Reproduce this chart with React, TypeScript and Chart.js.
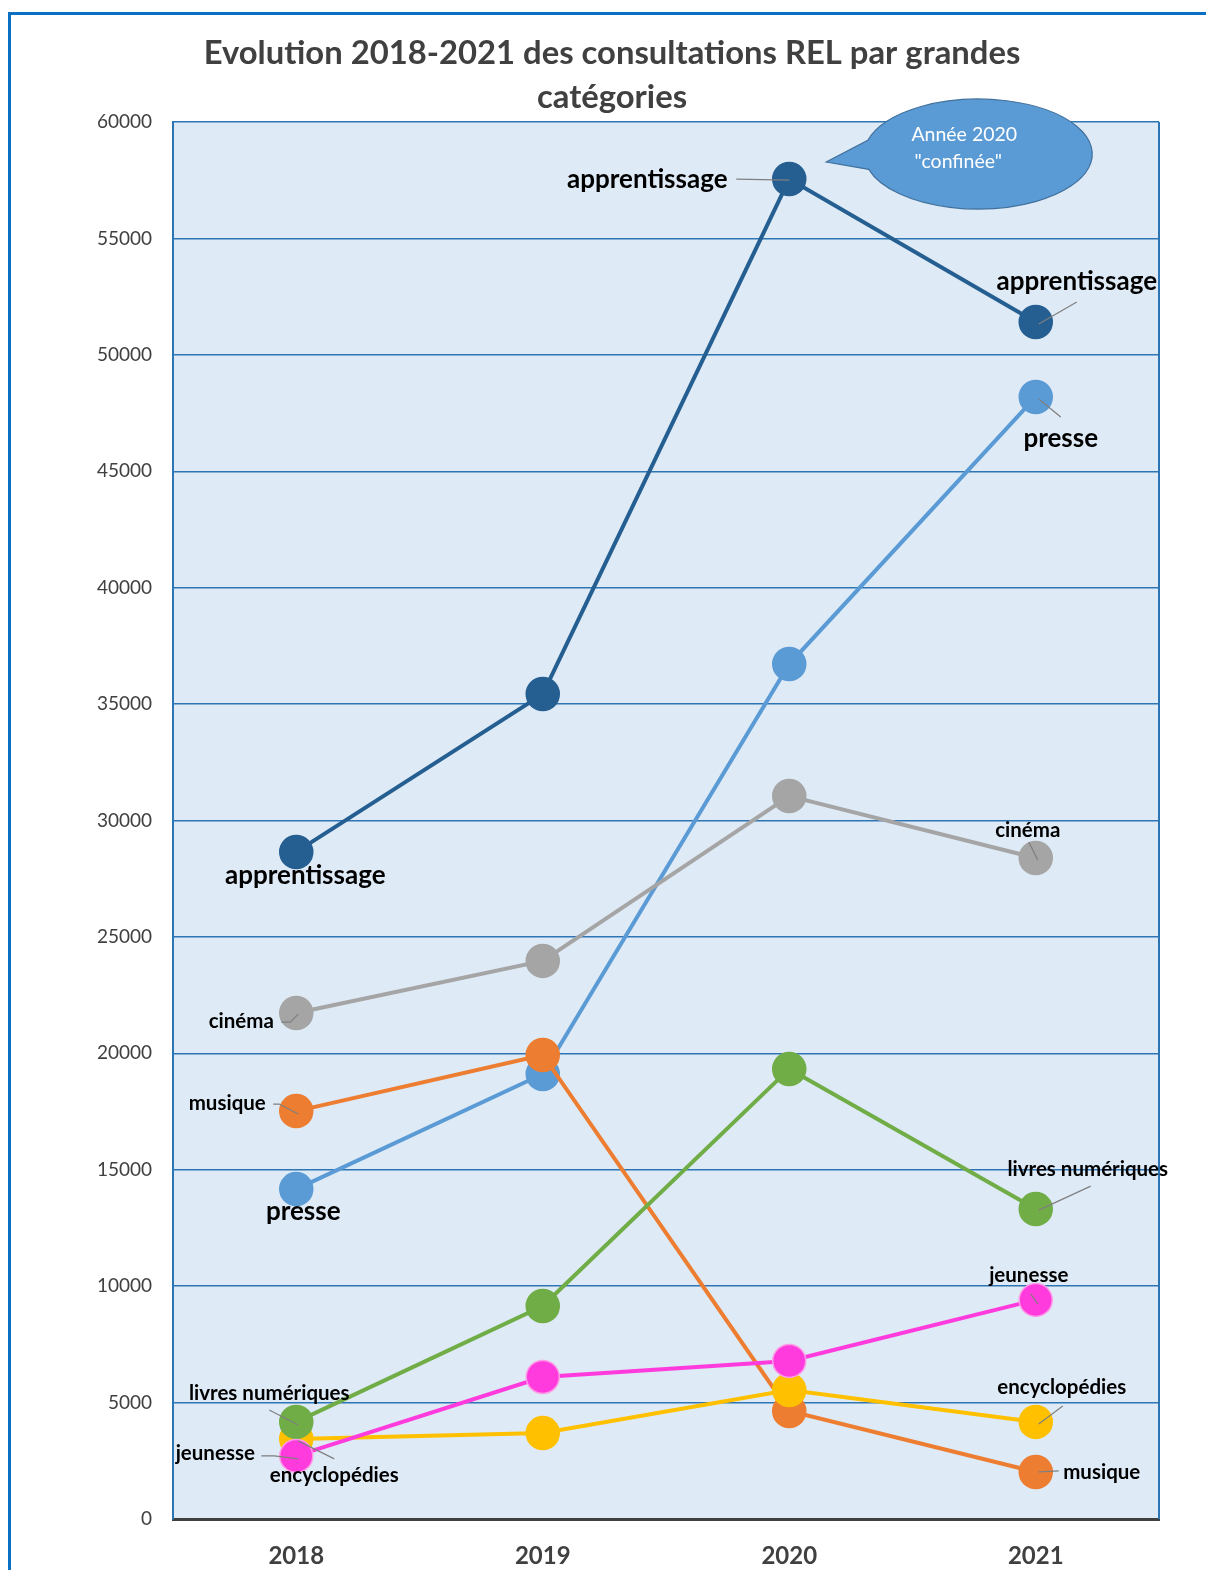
import React, { useEffect, useRef } from "react";
import { Chart, registerables } from "chart.js";

Chart.register(...registerables);

const years = ["2018", "2019", "2020", "2021"];
const seriesNames = ["apprentissage", "presse", "cinéma", "musique", "encyclopédies", "livres numériques", "jeunesse"];
const apprentissage = [28650, 35430, 57550, 51410];
const presse = [14170, 19110, 36720, 48190];
const cinema = [21730, 23970, 31050, 28390];
const musique = [17520, 19930, 4640, 2020];
const encyclopedies = [3440, 3690, 5540, 4170];
const livresNumeriques = [4170, 9150, 19330, 13310];
const jeunesse = [2710, 6100, 6790, 9410];
const yTicks = [0, 5000, 10000, 15000, 20000, 25000, 30000, 35000, 40000, 45000, 50000, 55000, 60000];
const titleLines = ["Evolution 2018-2021 des consultations REL par grandes", "catégories"];
const calloutLines = ["Année 2020", "\"confinée\""];

const seriesValues = [apprentissage, presse, cinema, musique, encyclopedies, livresNumeriques, jeunesse];
const seriesColors = ["#255E91", "#5B9BD5", "#A5A5A5", "#ED7D31", "#FFC000", "#70AD47", "#FF3BDD"];
const seriesBorders = ["#255E91", "#5B9BD5", "#A5A5A5", "#ED7D31", "#FFC000", "#70AD47", "#FF9BE6"];

const FONT = "Lato, 'Open Sans', sans-serif";

// label styling: dataset index, point index, text offset from point (dx, dy), font size, leader path offsets
type Lbl = { ds: number; i: number; dx: number; dy: number; size: number; leader?: number[][] };
const labels: Lbl[] = [
  { ds: 0, i: 0, dx: 9, dy: 24, size: 26 },
  { ds: 0, i: 2, dx: -142, dy: 1, size: 26, leader: [[-53, 0], [0, 1]] },
  { ds: 0, i: 3, dx: 41, dy: -40, size: 26, leader: [[41, -20], [3, 2]] },
  { ds: 1, i: 0, dx: 7, dy: 23, size: 26 },
  { ds: 1, i: 3, dx: 25, dy: 42, size: 26, leader: [[25, 20], [3, 2]] },
  { ds: 2, i: 0, dx: -55, dy: 8, size: 20.5, leader: [[-15, 9], [-6, 9], [2, 1]] },
  { ds: 2, i: 3, dx: -8, dy: -28, size: 20.5, leader: [[-7, -16], [2, 2]] },
  { ds: 3, i: 0, dx: -69, dy: -8, size: 20.5, leader: [[-23, -7], [-17, -7], [2, 3]] },
  { ds: 3, i: 3, dx: 66, dy: 0, size: 20.5, leader: [[23, -1], [3, 0]] },
  { ds: 5, i: 0, dx: -27, dy: -29, size: 20.5, leader: [[-27, -12], [2, 3]] },
  { ds: 5, i: 3, dx: 52, dy: -40, size: 20.5, leader: [[55, -23], [3, 1]] },
  { ds: 6, i: 0, dx: -81, dy: -3, size: 20.5, leader: [[-35, 0], [-22, 0], [2, 3]] },
  { ds: 6, i: 3, dx: -7, dy: -25, size: 20.5, leader: [[-5, -6], [2, 4]] },
  { ds: 4, i: 0, dx: 38, dy: 36, size: 20.5, leader: [[38, 20], [2, 2]] },
  { ds: 4, i: 3, dx: 26, dy: -35, size: 20.5, leader: [[27, -16], [3, 2]] },
];

const decor = {
  id: "decor",
  beforeDraw(chart: any) {
    const { ctx, chartArea: a } = chart;
    ctx.save();
    ctx.fillStyle = "#FFFFFF";
    ctx.fillRect(0, 0, chart.width, chart.height);
    ctx.fillStyle = "#DEEAF6";
    ctx.fillRect(a.left, a.top, a.right - a.left, a.bottom - a.top);
    // outer frame
    ctx.strokeStyle = "#0A70C4";
    ctx.lineWidth = 3;
    ctx.beginPath();
    ctx.moveTo(chart.width + 5, 13.5);
    ctx.lineTo(9.5, 13.5);
    ctx.lineTo(9.5, chart.height + 5);
    ctx.stroke();
    // title
    ctx.fillStyle = "#404040";
    ctx.font = `bold 32.8px ${FONT}`;
    ctx.textAlign = "center";
    ctx.textBaseline = "middle";
    titleLines.forEach((t, k) => ctx.fillText(t, 612, 53 + k * 44));
    ctx.restore();
  },
  beforeDatasetsDraw(chart: any) {
    const { ctx, chartArea: a } = chart;
    ctx.save();
    ctx.strokeStyle = "#2E75B6";
    ctx.lineWidth = 2;
    ctx.beginPath();
    ctx.moveTo(a.right, a.top);
    ctx.lineTo(a.right, a.bottom);
    ctx.stroke();
    ctx.restore();
  },
  afterDatasetsDraw(chart: any) {
    const { ctx } = chart;
    ctx.save();
    labels.forEach((l) => {
      const el = chart.getDatasetMeta(l.ds).data[l.i];
      const px = el.x, py = el.y;
      if (l.leader) {
        ctx.strokeStyle = "#7F7F7F";
        ctx.lineWidth = 1.2;
        ctx.beginPath();
        l.leader.forEach(([x, y], k) => (k === 0 ? ctx.moveTo(px + x, py + y) : ctx.lineTo(px + x, py + y)));
        ctx.stroke();
      }
      ctx.fillStyle = "#000000";
      ctx.font = `bold ${l.size}px ${FONT}`;
      ctx.textAlign = "center";
      ctx.textBaseline = "middle";
      ctx.fillText(seriesNames[l.ds], px + l.dx, py + l.dy);
    });
    // callout near the 2020 peak
    const pk = chart.getDatasetMeta(0).data[2];
    const cx = pk.x + 189, cy = pk.y - 25;
    ctx.fillStyle = "#5B9BD5";
    ctx.strokeStyle = "#41719C";
    ctx.lineWidth = 1.2;
    ctx.beginPath();
    ctx.ellipse(cx, cy, 114, 55, 0, Math.PI * 1.08, Math.PI * 0.91 + Math.PI * 2, false);
    ctx.lineTo(pk.x + 37, pk.y - 17);
    ctx.closePath();
    ctx.fill();
    ctx.stroke();
    ctx.fillStyle = "#FFFFFF";
    ctx.font = `19.5px ${FONT}`;
    ctx.textAlign = "center";
    ctx.textBaseline = "middle";
    ctx.fillText(calloutLines[0], cx - 14, cy - 19);
    ctx.fillText(calloutLines[1], cx - 20, cy + 8);
    ctx.restore();
  },
};

export default function App() {
  const ref = useRef<HTMLCanvasElement>(null);
  useEffect(() => {
    if (!ref.current) return;
    const chart = new Chart(ref.current, {
      type: "line",
      data: {
        labels: years,
        datasets: seriesNames.map((name, k) => ({
          label: name,
          data: seriesValues[k],
          borderColor: seriesColors[k],
          backgroundColor: seriesColors[k],
          pointBackgroundColor: seriesColors[k],
          pointBorderColor: seriesBorders[k],
          pointBorderWidth: 1.5,
          pointRadius: 16.5,
          borderWidth: 4,
          tension: 0,
          order: seriesNames.length - k,
          clip: false as any,
        })),
      },
      options: {
        animation: false,
        responsive: false,
        devicePixelRatio: 1,
        layout: { padding: { left: 0, right: 47, top: 122, bottom: 0 } },
        plugins: { legend: { display: false }, title: { display: false }, tooltip: { enabled: false } },
        scales: {
          x: {
            offset: true,
            grid: { display: false, drawTicks: false },
            border: { display: true, color: "#404040", width: 3 },
            ticks: { color: "#404040", font: { family: FONT, size: 24, weight: "bold" }, padding: 23 },
            afterFit: (s: any) => { s.height = 51; },
          },
          y: {
            min: 0,
            max: 60000,
            afterBuildTicks: (s: any) => { s.ticks = yTicks.map((v) => ({ value: v })); },
            grid: { color: "#2E75B6", lineWidth: 1.5, drawTicks: false },
            border: { display: true, color: "#2E75B6", width: 2 },
            ticks: { color: "#404040", font: { family: FONT, size: 19 }, padding: 21, callback: (v: any) => String(v) },
            afterFit: (s: any) => { s.width = 173; },
          },
        },
      },
      plugins: [decor],
    });
    return () => chart.destroy();
  }, []);
  return (
    <div style={{ position: "absolute", left: 0, top: 0, width: 1206, height: 1570 }}>
      <canvas ref={ref} width={1206} height={1570} style={{ width: 1206, height: 1570, display: "block" }} />
    </div>
  );
}
